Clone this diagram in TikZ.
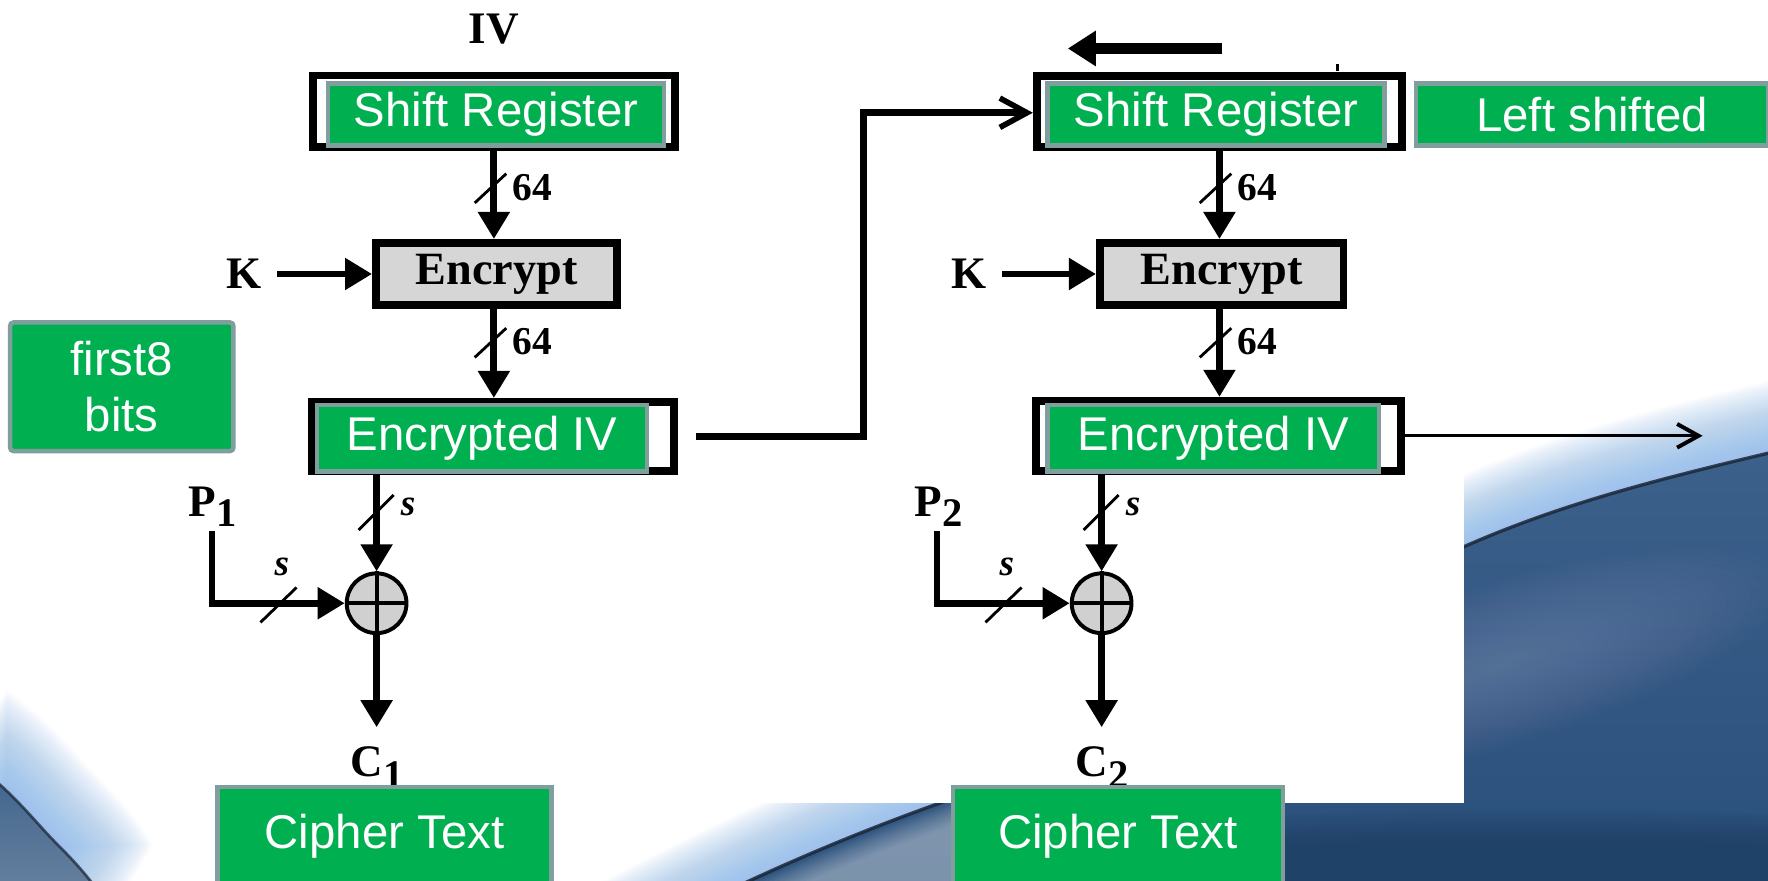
\documentclass[tikz,border=0pt]{standalone}
\usepackage{fontspec}
\setmainfont{Liberation Sans}
\newfontfamily\tnr{Liberation Serif}
\usetikzlibrary{arrows.meta,calc}

\definecolor{gfill}{RGB}{0,176,80}
\definecolor{gline}{RGB}{128,158,158}
\definecolor{encgray}{RGB}{214,214,214}
\definecolor{xorgray}{RGB}{208,208,208}
\definecolor{swdark}{RGB}{33,72,116}
\definecolor{swmid}{RGB}{60,97,139}
\definecolor{swlight}{RGB}{150,168,190}
\definecolor{glowblue}{RGB}{140,186,236}
\definecolor{edgedark}{RGB}{28,40,58}
\definecolor{blcorner}{RGB}{110,134,162}

\tikzset{
  greenbox/.style={draw=gline, line width=4pt, fill=gfill, text=white, inner sep=0pt,
    font=\fontsize{42}{50}\selectfont},
  regframe/.style={draw=black, line width=7pt, fill=white, inner sep=0pt},
  encbox/.style={draw=black, line width=7pt, fill=encgray, inner sep=0pt,
    font={\tnr\bfseries\fontsize{41}{46}\selectfont}},
  xorop/.style={circle, draw=black, line width=3.5pt, fill=xorgray, inner sep=0pt, minimum size=53pt},
  lbl/.style={font={\tnr\bfseries\fontsize{40}{46}\selectfont}, inner sep=0pt},
  widthlbl/.style={font={\tnr\bfseries\fontsize{35}{40}\selectfont}, inner sep=0pt},
  slbl/.style={font={\tnr\bfseries\itshape\fontsize{33}{38}\selectfont}, inner sep=0pt},
  dataflow/.style={line width=6pt, -{Triangle[length=24pt,width=27pt]}},
  busmark/.style={line width=2.5pt},
  feedback/.style={line width=6pt, -{Straight Barb[length=24pt,width=26pt,line width=5pt]}},
  thinout/.style={line width=3pt, -{Straight Barb[length=19pt,width=21pt,line width=3.5pt]}},
  crossline/.style={line width=3.5pt},
}

% edge curves of the two background swooshes
\def\rightedge{(470,880) .. controls (600,810) and (700,760) .. (834,712)
  .. controls (1000,640) and (1150,550) .. (1298,485)
  .. controls (1400,440) and (1500,418) .. (1640,385)}
\def\leftedge{(-30,672) .. controls (10,700) and (30,728) .. (50,748)
  .. controls (70,768) and (85,785) .. (100,810)}

\begin{document}
\begin{tikzpicture}[x=1pt,y=-1pt]
\useasboundingbox (0,0) rectangle (1568,781);

% ---------- slide background ----------
\begin{scope}
\clip (0,0) rectangle (1568,781);
\fill[white] (0,0) rectangle (1568,781);

% right-hand swoosh: soft glow above the edge
\foreach \k in {1,...,40} {
  \begin{scope}[yshift=\k*1.6pt]
    \fill[glowblue, opacity=0.035] \rightedge -- (1640,950) -- (470,950) -- cycle;
  \end{scope}
}
% right-hand swoosh body
\fill[top color=swmid, bottom color=swdark] \rightedge -- (1640,950) -- (470,950) -- cycle;
\begin{scope}
  \clip \rightedge -- (1640,950) -- (470,950) -- cycle;
  % pale sheen just under the edge, lower left part only
  \begin{scope}
    \clip (400,600) rectangle (1000,900);
    \foreach \k in {1,...,12} {
      \begin{scope}[yshift=-\k*2pt]
        \fill[white, opacity=0.045] \rightedge -- (1640,950) -- (470,950) -- cycle;
      \end{scope}
    }
  \end{scope}
  % light streak across the body
  \foreach \r in {1,...,24} {
    \fill[swlight, opacity=0.022] (1330,590) ellipse [x radius=\r*11, y radius=\r*3, rotate=17];
  }
  % darker band along the bottom
  \foreach \k in {0,...,9} {
    \fill[swdark!80!black, opacity=0.07] (900,770-\k*3) .. controls (1100,742-\k*3) and (1400,740-\k*3) .. (1640,752-\k*3)
      -- (1640,800) -- (900,800) -- cycle;
  }
\end{scope}
% edge line of the swoosh
\draw[edgedark, line width=3pt, opacity=0.85] \rightedge;

% bottom-left swoosh
\foreach \k in {1,...,40} {
  \begin{scope}[xshift=\k*0.9pt, yshift=\k*1.5pt]
    \fill[glowblue, opacity=0.035] \leftedge -- (-30,810) -- cycle;
  \end{scope}
}
\fill[top color=swmid, bottom color=blcorner] \leftedge -- (-30,810) -- cycle;
\draw[edgedark, line width=2.5pt, opacity=0.7] \leftedge;

% white backdrop of the cipher diagram
\fill[white] (150,0) rectangle (1298,712);
\end{scope}

% ---------- first stage ----------
\node[lbl] (ivlbl) at (438,26) {IV};
\node[regframe, minimum width=321pt, minimum height=63pt] (sr1f) at (438,98.5) {};
\node[greenbox, minimum width=298pt, minimum height=55pt] (sr1) at (440,101.5) {Shift Register};

\node[encbox, minimum width=214pt, minimum height=55pt] (enc1) at (440.5,243) {Encrypt};
\node[lbl] (k1) at (216,243) {K};
\draw[dataflow, shorten <=14pt] (k1.east) -- (enc1.west);

\draw[dataflow] (sr1f.south) -- (sr1f.south |- enc1.north);
\draw[busmark] (421,180) -- (449,154);
\node[widthlbl] (w1a) at (472,166) {64};

\node[regframe, minimum width=321pt, minimum height=61pt] (iv1f) at (437,387) {};
\node[greenbox, minimum width=293pt, minimum height=59pt] (iv1) at (427.5,388.5) {Encrypted IV};

\draw[dataflow] (enc1.south -| sr1f.south) -- (iv1f.north -| sr1f.south);
\draw[busmark] (421,317) -- (449,291);
\node[widthlbl] (w1b) at (472,303) {64};

\node[xorop] (x1) at (334,535) {};
\draw[crossline] (x1.north) -- (x1.south) (x1.west) -- (x1.east);

\draw[dataflow] (iv1f.south -| x1.north) -- (x1.north);
\draw[busmark] (318,470) -- (349,439);
\node[slbl] (s1a) at (362,450) {s};

\node[lbl, anchor=base west] (p1) at (167,458) {P\raisebox{-9pt}{\fontsize{36}{40}\selectfont 1}};
\coordinate (p1top) at (188,471);
\draw[dataflow] (p1top) |- (x1.west);
\draw[busmark] (231,552) -- (263,521);
\node[slbl] (s1b) at (250,503) {s};

\coordinate (c1tip) at (334,645);
\draw[dataflow] (x1.south) -- (c1tip);
\node[lbl, anchor=base west] (c1) at (311,689) {C\raisebox{-10pt}{\fontsize{36}{40}\selectfont 1}};
\node[greenbox, minimum width=296pt, minimum height=88pt] (ct1) at (341,742) {Cipher Text};

\node[greenbox, rounded corners=3pt, minimum width=198pt, minimum height=114pt, align=center] (f8) at (108,343) {first8\\bits};

% ---------- second stage ----------
\coordinate (shA) at (1084,43);
\coordinate (shB) at (947,43);
\draw[line width=10pt, -{Triangle[length=25pt,width=30pt]}] (shA) -- (shB);

\node[regframe, minimum width=324pt, minimum height=63pt] (sr2f) at (1081.5,99) {};
\draw[line width=3pt] (1186,57) -- (1186,63);
\node[greenbox, minimum width=299pt, minimum height=55pt] (sr2) at (1078.5,101.5) {Shift Register};
\node[greenbox, minimum width=312pt, minimum height=55pt] (lsh) at (1412,101.5) {Left shifted};

\node[encbox, minimum width=216pt, minimum height=55pt] (enc2) at (1083.5,243) {Encrypt};
\node[lbl] (k2) at (859,243) {K};
\draw[dataflow, shorten <=14pt] (k2.east) -- (enc2.west);

\draw[dataflow] (sr2f.south) -- (sr2f.south |- enc2.north);
\draw[busmark] (1064,180) -- (1092,154);
\node[widthlbl] (w2a) at (1115,166) {64};

\node[regframe, minimum width=324pt, minimum height=62pt] (iv2f) at (1080.5,386.5) {};
\node[greenbox, minimum width=294pt, minimum height=59pt] (iv2) at (1076,388.5) {Encrypted IV};

\draw[dataflow] (enc2.south -| sr2f.south) -- (iv2f.north -| sr2f.south);
\draw[busmark] (1064,317) -- (1092,291);
\node[widthlbl] (w2b) at (1115,303) {64};

\node[xorop] (x2) at (977,535) {};
\draw[crossline] (x2.north) -- (x2.south) (x2.west) -- (x2.east);

\draw[dataflow] (iv2f.south -| x2.north) -- (x2.north);
\draw[busmark] (961,470) -- (992,439);
\node[slbl] (s2a) at (1005,450) {s};

\node[lbl, anchor=base west] (p2) at (811,458) {P\raisebox{-9pt}{\fontsize{36}{40}\selectfont 2}};
\coordinate (p2top) at (831,471);
\draw[dataflow] (p2top) |- (x2.west);
\draw[busmark] (874,552) -- (906,521);
\node[slbl] (s2b) at (893,503) {s};

\coordinate (c2tip) at (977,645);
\draw[dataflow] (x2.south) -- (c2tip);
\node[lbl, anchor=base west] (c2) at (954,689) {C\raisebox{-10pt}{\fontsize{36}{40}\selectfont 2}};
\node[greenbox, minimum width=293pt, minimum height=88pt] (ct2) at (991.5,742) {Cipher Text};

% ---------- chaining connectors ----------
\coordinate (fbk) at (766,100);
\draw[feedback, shorten <=16pt] (iv1f.east) -| (fbk) -- (sr2f.west |- fbk);
\coordinate (nxt) at (1510,386.5);
\draw[thinout] (iv2f.east) -- (nxt);
\end{tikzpicture}
\end{document}
